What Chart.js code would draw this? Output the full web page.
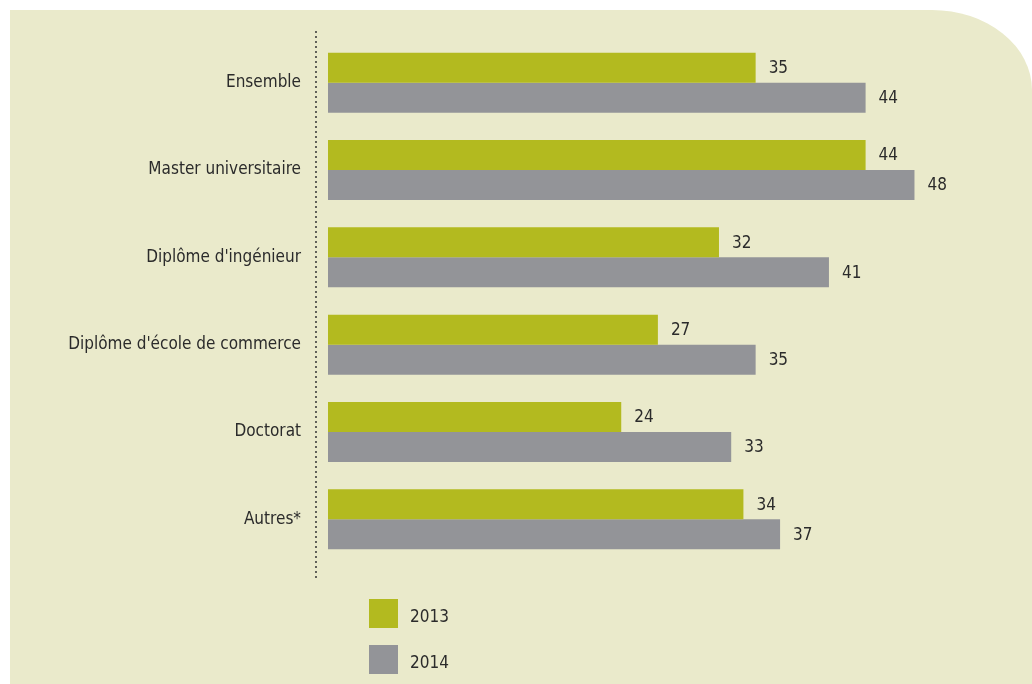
<!DOCTYPE html>
<html>
<head>
<meta charset="utf-8">
<script src="https://cdn.jsdelivr.net/npm/chart.js@4"></script>
<style>
  html, body { margin: 0; padding: 0; background: #fff; }
  #wrap { position: relative; width: 1032px; height: 684px; }
  #panel {
    position: absolute; left: 10px; top: 10px; right: 0; bottom: 0;
    background: #eaeacb; border-top-right-radius: 100px 80px;
  }
  canvas { position: absolute; left: 0; top: 0; }
</style>
</head>
<body>
<div id="wrap">
  <div id="panel"></div>
  <canvas id="chart" width="1032" height="684"></canvas>
</div>
<script>
const categories = [
  'Ensemble',
  'Master universitaire',
  "Diplôme d'ingénieur",
  "Diplôme d'école de commerce",
  'Doctorat',
  'Autres*'
];
const values2013 = [35, 44, 32, 27, 24, 34];
const values2014 = [44, 48, 41, 35, 33, 37];
const seriesLabels = ['2013', '2014'];

const palette = {
  green: '#b3ba1f',
  gray:  '#939498',
  text:  '#2b2b2b'
};
const fontFamily = '"DejaVu Sans Condensed", "DejaVu Sans", sans-serif';

// valeurs a droite des barres + ligne pointillee + legende verticale
const extras = {
  id: 'extras',
  afterDatasetsDraw(chart) {
    const ctx = chart.ctx;
    const area = chart.chartArea;
    ctx.save();

    // ligne pointillee
    ctx.strokeStyle = '#333';
    ctx.lineWidth = 2;
    ctx.lineCap = 'round';
    ctx.setLineDash([0, 5]);
    ctx.beginPath();
    ctx.moveTo(area.left - 12, area.top - 7);
    ctx.lineTo(area.left - 12, area.bottom + 15);
    ctx.stroke();
    ctx.setLineDash([]);

    // valeurs
    ctx.font = '17px ' + fontFamily;
    ctx.fillStyle = palette.text;
    ctx.textAlign = 'left';
    ctx.textBaseline = 'middle';
    chart.data.datasets.forEach((ds, di) => {
      chart.getDatasetMeta(di).data.forEach((bar, i) => {
        ctx.fillText(ds.data[i], bar.x + 13, bar.y + 1);
      });
    });

    // legende
    chart.data.datasets.forEach((ds, di) => {
      const x = 369, y = 599 + di * 46;
      ctx.fillStyle = ds.backgroundColor;
      ctx.fillRect(x, y, 29, 29);
      ctx.fillStyle = palette.text;
      ctx.fillText(ds.label, x + 41, y + 19);
    });
    ctx.restore();
  }
};

new Chart(document.getElementById('chart'), {
  type: 'bar',
  data: {
    labels: categories,
    datasets: [
      { label: seriesLabels[0], data: values2013, backgroundColor: palette.green },
      { label: seriesLabels[1], data: values2014, backgroundColor: palette.gray }
    ]
  },
  options: {
    indexAxis: 'y',
    responsive: false,
    animation: false,
    layout: { padding: { top: 39, bottom: 121, right: 32, left: 0 } },
    datasets: { bar: { barPercentage: 1, categoryPercentage: 0.687 } },
    plugins: {
      legend: { display: false },
      tooltip: { enabled: false }
    },
    scales: {
      x: { display: false, min: 0, max: 55 },
      y: {
        afterFit(s) { s.width = 328; },
        grid: { display: false, drawTicks: false },
        border: { display: false },
        ticks: {
          color: palette.text,
          padding: 27,
          font: { family: fontFamily, size: 17 }
        }
      }
    }
  },
  plugins: [extras]
});
</script>
</body>
</html>
